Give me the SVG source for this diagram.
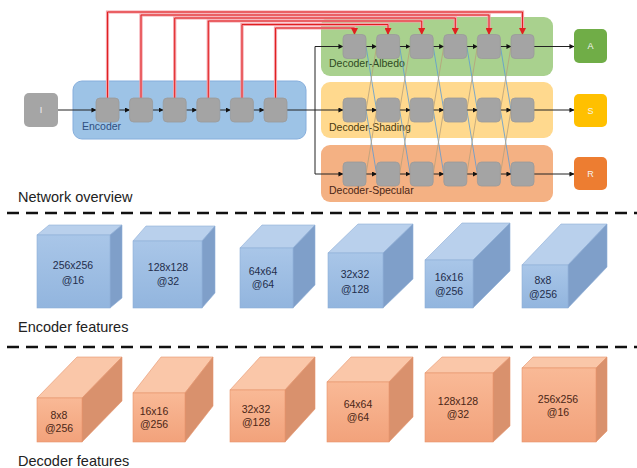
<svg xmlns="http://www.w3.org/2000/svg" width="637" height="468" viewBox="0 0 637 468">
<defs>
<marker id="ah" viewBox="0 0 6 6" refX="5.5" refY="3" markerWidth="5" markerHeight="5" orient="auto" markerUnits="userSpaceOnUse"><path d="M0,0 L6,3 L0,6 z" fill="#111"/></marker>
<marker id="ahr" viewBox="0 0 6 6" refX="5.5" refY="3" markerWidth="7" markerHeight="7" orient="auto" markerUnits="userSpaceOnUse"><path d="M0,0 L6,3 L0,6 z" fill="#e02020"/></marker>
<linearGradient id="gb" x1="0" y1="0" x2="0" y2="1"><stop offset="0" stop-color="#a9c6e8"/><stop offset="1" stop-color="#92b5de"/></linearGradient>
<linearGradient id="go" x1="0" y1="0" x2="0" y2="1"><stop offset="0" stop-color="#f9b996"/><stop offset="1" stop-color="#f2a27b"/></linearGradient>
</defs>
<style>
text{font-family:"Liberation Sans",Arial,sans-serif}
.blk{fill:#a4a4a4;stroke:#9a9a9a;stroke-width:0.8}
.lbl{font-size:10.5px}
.ttl{font-size:14.5px;fill:#222}
.out{font-size:9px;fill:#f4f4f4;text-anchor:middle}
.ln{stroke:#222;stroke-width:1;fill:none}
.ar{stroke:#222;stroke-width:1;fill:none;marker-end:url(#ah)}
.halo{stroke:#f4a0a8;stroke-width:3.2;fill:none}
.reda{stroke:#e02020;stroke-width:1;fill:none;marker-end:url(#ahr)}
.xb{stroke:#5b9bd5;stroke-width:0.8;fill:none}
.xt{stroke:#b8a07a;stroke-width:0.8;fill:none}
.dash{stroke:#111;stroke-width:2.5;stroke-dasharray:12 7;fill:none}
.bf{fill:url(#gb);stroke:#8eaed6;stroke-width:0.6}
.bt{fill:#b9d0ec;stroke:#8eaed6;stroke-width:0.6}
.br{fill:#7f9fc9;stroke:#8eaed6;stroke-width:0.6}
.of{fill:url(#go);stroke:#e6946c;stroke-width:0.6}
.ot{fill:#fac7a9;stroke:#e6946c;stroke-width:0.6}
.or{fill:#d9916d;stroke:#e6946c;stroke-width:0.6}
.bx{font-size:10.5px;fill:#1f2d4a;text-anchor:middle}
.ox{font-size:10.5px;fill:#4a2616;text-anchor:middle}
</style>

<g id="encoder">
<rect x="73" y="81" width="233" height="58" rx="9" fill="#9dc3e6" stroke="#86aedc" stroke-width="1"/>
<text class="lbl" x="82" y="130" fill="#2f4f7f">Encoder</text>
</g>
<g id="decoder-albedo">
<rect x="321" y="17" width="232" height="59" rx="9" fill="#a9d18e"/>
<text class="lbl" x="329" y="67" fill="#2f4a22">Decoder-Albedo</text>
</g>
<g id="decoder-shading">
<rect x="321" y="82" width="232" height="56" rx="9" fill="#ffd98e"/>
<text class="lbl" x="329" y="131" fill="#4a3a10">Decoder-Shading</text>
</g>
<g id="decoder-specular">
<rect x="321" y="145" width="232" height="57" rx="9" fill="#f4b183"/>
<text class="lbl" x="329" y="194" fill="#4a2616">Decoder-Specular</text>
</g>

<g id="connectors">
<path class="halo" d="M107.5,98 V12 H522.5 V32"/>
<path class="halo" d="M141,98 V15 H489 V32"/>
<path class="halo" d="M174.7,98 V18 H455.3 V32"/>
<path class="halo" d="M208.3,98 V21 H421.7 V32"/>
<path class="halo" d="M242,98 V24.5 H388 V32"/>
<path class="halo" d="M275.5,98 V28 H354.5 V32"/>
<path class="reda" d="M107.5,98 V12 H522.5 V34.5"/>
<path class="reda" d="M141,98 V15 H489 V34.5"/>
<path class="reda" d="M174.7,98 V18 H455.3 V34.5"/>
<path class="reda" d="M208.3,98 V21 H421.7 V34.5"/>
<path class="reda" d="M242,98 V24.5 H388 V34.5"/>
<path class="reda" d="M275.5,98 V28 H354.5 V34.5"/>
<path class="ar" d="M58,110 H96"/>
<path class="ar" d="M119,110 H129.6"/>
<path class="ar" d="M152.6,110 H163.2"/>
<path class="ar" d="M186.2,110 H196.8"/>
<path class="ar" d="M219.8,110 H230.4"/>
<path class="ar" d="M253.4,110 H264"/>
<path class="ln" d="M287,110 H315 M315,46.5 V174"/>
<path class="ar" d="M315,46.5 H343"/>
<path class="ar" d="M315,110 H343"/>
<path class="ar" d="M315,174 H343"/>
<path class="xb" d="M366,46.5 L376.6,110 M366,110 L376.6,174 M399.6,46.5 L410.2,110 M399.6,110 L410.2,174 M433.2,46.5 L443.8,110 M433.2,110 L443.8,174 M466.8,46.5 L477.4,110 M466.8,110 L477.4,174 M500.4,46.5 L511,110 M500.4,110 L511,174"/>
<path class="xt" d="M366,110 L376.6,46.5 M366,174 L376.6,110 M399.6,110 L410.2,46.5 M399.6,174 L410.2,110 M433.2,110 L443.8,46.5 M433.2,174 L443.8,110 M466.8,110 L477.4,46.5 M466.8,174 L477.4,110 M500.4,110 L511,46.5 M500.4,174 L511,110"/>
<path class="ar" d="M366,46.5 H376.6"/><path class="ar" d="M399.6,46.5 H410.2"/><path class="ar" d="M433.2,46.5 H443.8"/><path class="ar" d="M466.8,46.5 H477.4"/><path class="ar" d="M500.4,46.5 H511"/>
<path class="ar" d="M366,110 H376.6"/><path class="ar" d="M399.6,110 H410.2"/><path class="ar" d="M433.2,110 H443.8"/><path class="ar" d="M466.8,110 H477.4"/><path class="ar" d="M500.4,110 H511"/>
<path class="ar" d="M366,174 H376.6"/><path class="ar" d="M399.6,174 H410.2"/><path class="ar" d="M433.2,174 H443.8"/><path class="ar" d="M466.8,174 H477.4"/><path class="ar" d="M500.4,174 H511"/>
<path class="ar" d="M534,46.5 H574"/>
<path class="ar" d="M534,110 H574"/>
<path class="ar" d="M534,174 H574"/>
</g>

<g id="input"><rect x="24" y="93" width="34" height="34" rx="5" fill="#a5a5a5"/><text class="out" x="41" y="113">I</text></g>
<g id="out-A"><rect x="574" y="29" width="33" height="34" rx="5" fill="#70ad47"/><text class="out" x="590.5" y="49">A</text></g>
<g id="out-S"><rect x="574" y="94" width="33" height="33" rx="5" fill="#ffc000"/><text class="out" x="590.5" y="114">S</text></g>
<g id="out-R"><rect x="574" y="157" width="33" height="33" rx="5" fill="#ed7d31"/><text class="out" x="590.5" y="177">R</text></g>

<g id="enc1"><rect class="blk" x="96" y="98" width="23" height="24" rx="4"/></g>
<g id="enc2"><rect class="blk" x="129.6" y="98" width="23" height="24" rx="4"/></g>
<g id="enc3"><rect class="blk" x="163.2" y="98" width="23" height="24" rx="4"/></g>
<g id="enc4"><rect class="blk" x="196.8" y="98" width="23" height="24" rx="4"/></g>
<g id="enc5"><rect class="blk" x="230.4" y="98" width="23" height="24" rx="4"/></g>
<g id="enc6"><rect class="blk" x="264" y="98" width="23" height="24" rx="4"/></g>
<g id="albedo-blocks">
<rect class="blk" x="343" y="34.5" width="23" height="24" rx="4"/>
<rect class="blk" x="376.6" y="34.5" width="23" height="24" rx="4"/>
<rect class="blk" x="410.2" y="34.5" width="23" height="24" rx="4"/>
<rect class="blk" x="443.8" y="34.5" width="23" height="24" rx="4"/>
<rect class="blk" x="477.4" y="34.5" width="23" height="24" rx="4"/>
<rect class="blk" x="511" y="34.5" width="23" height="24" rx="4"/>
</g>
<g id="shading-blocks">
<rect class="blk" x="343" y="98" width="23" height="24" rx="4"/>
<rect class="blk" x="376.6" y="98" width="23" height="24" rx="4"/>
<rect class="blk" x="410.2" y="98" width="23" height="24" rx="4"/>
<rect class="blk" x="443.8" y="98" width="23" height="24" rx="4"/>
<rect class="blk" x="477.4" y="98" width="23" height="24" rx="4"/>
<rect class="blk" x="511" y="98" width="23" height="24" rx="4"/>
</g>
<g id="specular-blocks">
<rect class="blk" x="343" y="162" width="23" height="24" rx="4"/>
<rect class="blk" x="376.6" y="162" width="23" height="24" rx="4"/>
<rect class="blk" x="410.2" y="162" width="23" height="24" rx="4"/>
<rect class="blk" x="443.8" y="162" width="23" height="24" rx="4"/>
<rect class="blk" x="477.4" y="162" width="23" height="24" rx="4"/>
<rect class="blk" x="511" y="162" width="23" height="24" rx="4"/>
</g>

<text class="ttl" x="18" y="202">Network overview</text>
<path class="dash" d="M7,213 H637"/>

<g id="ecube1"><polygon class="bt" points="37,235 49,225 122,225 110,235"/><polygon class="br" points="110,235 122,225 122,298 110,308"/><rect class="bf" x="37" y="235" width="73" height="73"/><text class="bx" x="73" y="269">256x256</text><text class="bx" x="73" y="284">@16</text></g>
<g id="ecube2"><polygon class="bt" points="133,241 146,226 215,226 202,241"/><polygon class="br" points="202,241 215,226 215,293 202,308"/><rect class="bf" x="133" y="241" width="69" height="67"/><text class="bx" x="168" y="271">128x128</text><text class="bx" x="168" y="285">@32</text></g>
<g id="ecube3"><polygon class="bt" points="240,248 262,225 315,225 293,248"/><polygon class="br" points="293,248 315,225 315,285 293,308"/><rect class="bf" x="240" y="248" width="53" height="60"/><text class="bx" x="263" y="275">64x64</text><text class="bx" x="263" y="288">@64</text></g>
<g id="ecube4"><polygon class="bt" points="328,253 358,224 413,224 383,253"/><polygon class="br" points="383,253 413,224 413,279 383,308"/><rect class="bf" x="328" y="253" width="55" height="55"/><text class="bx" x="355" y="278">32x32</text><text class="bx" x="355" y="293">@128</text></g>
<g id="ecube5"><polygon class="bt" points="425,260 462,223 510,223 473,260"/><polygon class="br" points="473,260 510,223 510,271 473,308"/><rect class="bf" x="425" y="260" width="48" height="48"/><text class="bx" x="449" y="281">16x16</text><text class="bx" x="449" y="295">@256</text></g>
<g id="ecube6"><polygon class="bt" points="522,265 561,224 607,224 568,265"/><polygon class="br" points="568,265 607,224 607,267 568,308"/><rect class="bf" x="522" y="265" width="46" height="43"/><text class="bx" x="543" y="284">8x8</text><text class="bx" x="543" y="298">@256</text></g>

<text class="ttl" x="18" y="332">Encoder features</text>
<path class="dash" d="M7,347 H637"/>

<g id="dcube1"><polygon class="ot" points="37,398 77,357 122,357 82,398"/><polygon class="or" points="82,398 122,357 122,401 82,442"/><rect class="of" x="37" y="398" width="45" height="44"/><text class="ox" x="59" y="419">8x8</text><text class="ox" x="59" y="432">@256</text></g>
<g id="dcube2"><polygon class="ot" points="133,393 161,357 213,357 185,393"/><polygon class="or" points="185,393 213,357 213,406 185,442"/><rect class="of" x="133" y="393" width="52" height="49"/><text class="ox" x="154" y="415">16x16</text><text class="ox" x="154" y="428">@256</text></g>
<g id="dcube3"><polygon class="ot" points="230,390 260,357 315,357 285,390"/><polygon class="or" points="285,390 315,357 315,409 285,442"/><rect class="of" x="230" y="390" width="55" height="52"/><text class="ox" x="256" y="413">32x32</text><text class="ox" x="256" y="426">@128</text></g>
<g id="dcube4"><polygon class="ot" points="327,382 351,357 413,357 389,382"/><polygon class="or" points="389,382 413,357 413,417 389,442"/><rect class="of" x="327" y="382" width="62" height="60"/><text class="ox" x="358" y="408">64x64</text><text class="ox" x="358" y="421">@64</text></g>
<g id="dcube5"><polygon class="ot" points="425,373 442,357 510,357 493,373"/><polygon class="or" points="493,373 510,357 510,426 493,442"/><rect class="of" x="425" y="373" width="68" height="69"/><text class="ox" x="458" y="405">128x128</text><text class="ox" x="458" y="418">@32</text></g>
<g id="dcube6"><polygon class="ot" points="522,368 533,357 607,357 596,368"/><polygon class="or" points="596,368 607,357 607,431 596,442"/><rect class="of" x="522" y="368" width="74" height="74"/><text class="ox" x="558" y="403">256x256</text><text class="ox" x="558" y="416">@16</text></g>

<text class="ttl" x="18" y="466">Decoder features</text>
</svg>
